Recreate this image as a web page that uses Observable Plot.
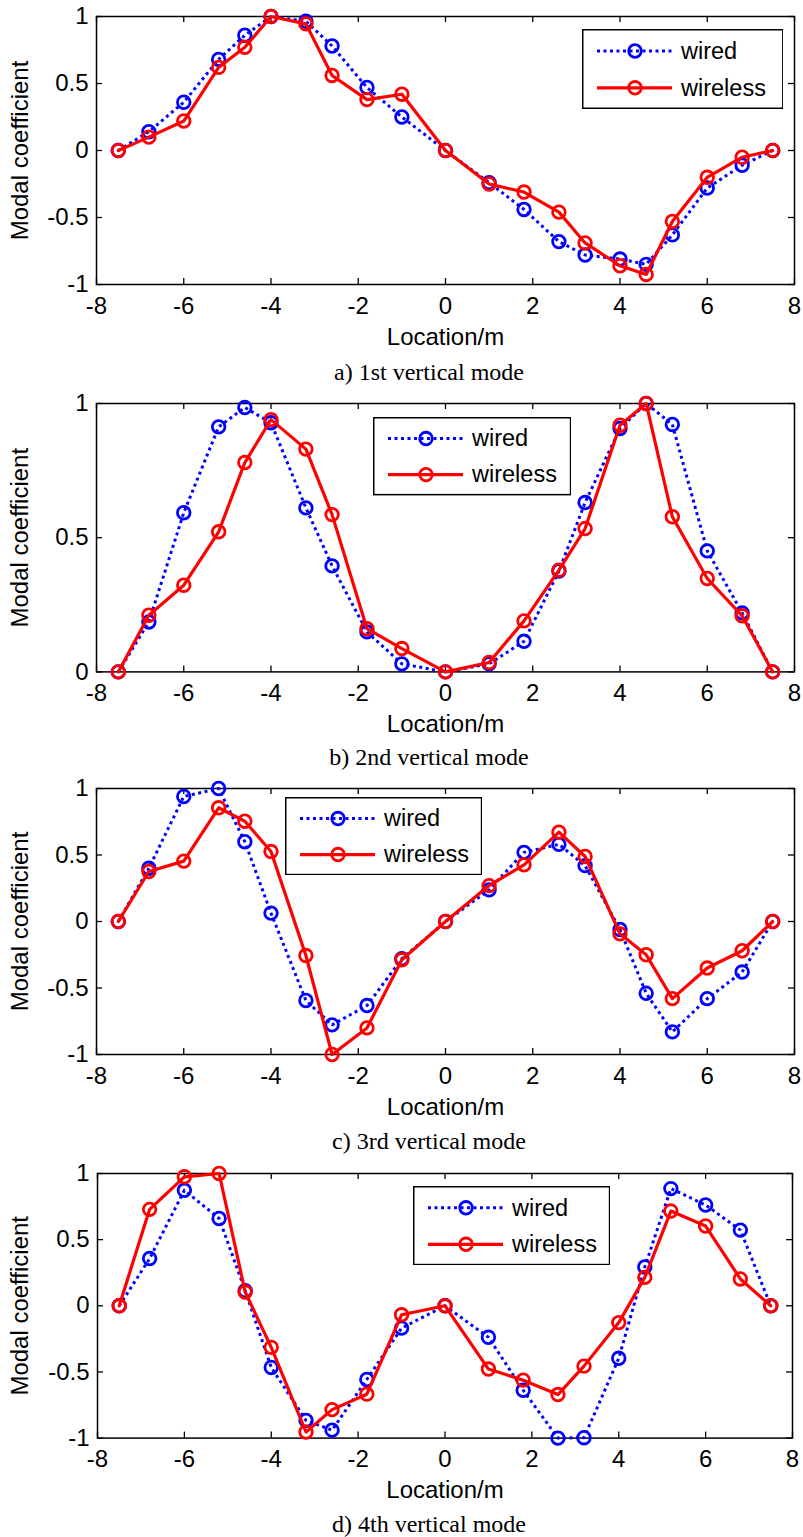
<!DOCTYPE html>
<html><head><meta charset="utf-8">
<script src="https://cdn.jsdelivr.net/npm/d3@7"></script>
<script src="https://cdn.jsdelivr.net/npm/@observablehq/plot@0.6"></script>
<style>
html,body{margin:0;padding:0;background:#fff;overflow:hidden}
#page{position:relative;width:803px;height:1537px;background:#fff}
.caption{position:absolute;font-family:"Liberation Serif","Times New Roman",serif;font-size:24px;line-height:24px;text-align:center;color:#000;white-space:nowrap}
.legend{position:absolute}
</style></head><body><div id="page"></div>
<script>
// ---- data ----
const locations = [-7.5,-6.8,-6,-5.2,-4.6,-4,-3.2,-2.6,-1.8,-1,0,1,1.8,2.6,3.2,4,4.6,5.2,6,6.8,7.5];
const wiredA    = [0,0.14,0.36,0.68,0.86,1.0,0.965,0.78,0.47,0.25,0,-0.24,-0.44,-0.68,-0.78,-0.81,-0.85,-0.63,-0.28,-0.11,0];
const wirelessA = [0,0.10,0.22,0.62,0.77,1.0,0.945,0.56,0.38,0.42,0,-0.25,-0.31,-0.46,-0.69,-0.86,-0.925,-0.53,-0.20,-0.05,0];
const wiredB    = [0,0.186,0.593,0.913,0.985,0.928,0.611,0.395,0.149,0.03,0,0.03,0.114,0.376,0.631,0.907,1.0,0.922,0.451,0.22,0];
const wirelessB = [0,0.211,0.323,0.522,0.78,0.94,0.83,0.586,0.161,0.087,0,0.035,0.19,0.379,0.534,0.919,1.0,0.578,0.348,0.209,0];
const wiredC    = [0,0.40,0.94,1.0,0.60,0.063,-0.594,-0.777,-0.632,-0.28,0,0.238,0.52,0.58,0.42,-0.06,-0.54,-0.83,-0.58,-0.38,0];
const wirelessC = [0,0.376,0.454,0.855,0.754,0.526,-0.256,-1.0,-0.80,-0.288,0,0.27,0.426,0.672,0.489,-0.093,-0.25,-0.58,-0.35,-0.22,0];
const wiredD    = [0,0.357,0.873,0.66,0.114,-0.466,-0.866,-0.94,-0.557,-0.169,0,-0.238,-0.638,-1.0,-0.997,-0.397,0.294,0.886,0.762,0.572,0];
const wirelessD = [0,0.729,0.975,1.0,0.104,-0.314,-0.954,-0.785,-0.668,-0.068,0,-0.478,-0.562,-0.671,-0.456,-0.127,0.215,0.716,0.603,0.203,0];

const xTicks = [-8,-6,-4,-2,0,2,4,6,8];
const yTicksSigned = [-1,-0.5,0,0.5,1];
const yTicksPositive = [0,0.5,1];
const seriesNames = ["wired","wireless"];
const captions = ["a) 1st vertical mode","b) 2nd vertical mode","c) 3rd vertical mode","d) 4th vertical mode"];
const xLabel = "Location/m";
const yLabel = "Modal coefficient";

// ---- layout ----
const panels = [
  {wired: wiredA, wireless: wirelessA, yDomain: [-1,1], yTicks: yTicksSigned, caption: captions[0],
   left: 96, right: 794, top: 16, bottom: 284, capBase: 380, leg: {x: 581.7, y: 29.3, w: 201.6, h: 80}},
  {wired: wiredB, wireless: wirelessB, yDomain: [0,1], yTicks: yTicksPositive, caption: captions[1],
   left: 96, right: 794, top: 403.3, bottom: 671.7, capBase: 765, leg: {x: 372.7, y: 417.3, w: 198.3, h: 78.4}},
  {wired: wiredC, wireless: wirelessC, yDomain: [-1,1], yTicks: yTicksSigned, caption: captions[2],
   left: 96, right: 794, top: 788.3, bottom: 1054.3, capBase: 1149, leg: {x: 285, y: 796.7, w: 197.3, h: 78.3}},
  {wired: wiredD, wireless: wirelessD, yDomain: [-1,1], yTicks: yTicksSigned, caption: captions[3],
   left: 97, right: 792, top: 1172.7, bottom: 1437.3, capBase: 1532, leg: {x: 412.7, y: 1185.7, w: 197.3, h: 79.3}}
];

const BLUE = "#0000ff", RED = "#ff0000";
const DASH = "3,3.5";
const page = document.getElementById("page");

function drawPanel(cfg) {
  const mt = 16, mb = 70;
  const pw = cfg.right - cfg.left, ph = cfg.bottom - cfg.top;
  const rows = locations.map((x, i) => ({x, wired: cfg.wired[i], wireless: cfg.wireless[i]}));
  const chart = Plot.plot({
    width: 803, height: ph + mt + mb,
    marginTop: mt, marginBottom: mb, marginLeft: cfg.left, marginRight: 803 - cfg.right,
    style: {fontFamily: '"Liberation Sans", Arial, sans-serif', fontSize: "24px", color: "#000", background: "transparent", overflow: "visible"},
    x: {domain: [-8, 8]},
    y: {domain: cfg.yDomain},
    marks: [
      Plot.frame({stroke: "#000", strokeWidth: 1.5}),
      Plot.tickX(xTicks, {x: d => d, insetTop: ph - 6, stroke: "#000", strokeWidth: 1.3}),
      Plot.tickX(xTicks, {x: d => d, insetBottom: ph - 6, stroke: "#000", strokeWidth: 1.3}),
      Plot.tickY(cfg.yTicks, {y: d => d, insetRight: pw - 6, stroke: "#000", strokeWidth: 1.3}),
      Plot.tickY(cfg.yTicks, {y: d => d, insetLeft: pw - 6, stroke: "#000", strokeWidth: 1.3}),
      Plot.axisX({ticks: xTicks, tickSize: 0, tickPadding: 12, tickFormat: d => String(d), fontSize: 24, label: null}),
      Plot.axisY({ticks: cfg.yTicks, tickSize: 0, tickPadding: 8, tickFormat: d => String(d), fontSize: 24, label: null}),
      Plot.text([xLabel], {text: d => d, frameAnchor: "bottom", dy: 60, lineAnchor: "bottom", textAnchor: "middle", fontSize: 24, fill: "#000"}),
      Plot.text([yLabel], {text: d => d, frameAnchor: "left", dx: 27 - cfg.left, rotate: -90, lineAnchor: "bottom", textAnchor: "middle", fontSize: 24, fill: "#000"}),
      Plot.line(rows, {x: "x", y: "wired", stroke: BLUE, strokeWidth: 3, strokeDasharray: DASH, strokeLinecap: "butt"}),
      Plot.dot(rows, {x: "x", y: "wired", r: 6.3, stroke: BLUE, strokeWidth: 2.8, fill: "none"}),
      Plot.line(rows, {x: "x", y: "wireless", stroke: RED, strokeWidth: 3.2}),
      Plot.dot(rows, {x: "x", y: "wireless", r: 6.3, stroke: RED, strokeWidth: 2.8, fill: "none"})
    ]
  });
  chart.style.position = "absolute";
  chart.style.left = "0px";
  chart.style.top = (cfg.top - mt) + "px";
  page.appendChild(chart);

  // caption
  const cap = document.createElement("div");
  cap.className = "caption";
  cap.textContent = cfg.caption;
  cap.style.left = "229px";
  cap.style.width = "400px";
  cap.style.top = (cfg.capBase - 20.1) + "px";
  page.appendChild(cap);

  // legend
  const L = cfg.leg;
  const div = document.createElement("div");
  div.className = "legend";
  div.style.left = L.x + "px";
  div.style.top = L.y + "px";
  const svg = d3.create("svg").attr("width", L.w).attr("height", L.h).style("display", "block");
  svg.append("rect").attr("x", 0.75).attr("y", 0.75).attr("width", L.w - 1.5).attr("height", L.h - 1.5)
    .attr("fill", "#fff").attr("stroke", "#000").attr("stroke-width", 1.5);
  const rowY = [L.h * 0.275, L.h * 0.735];
  const styles = [{c: BLUE, dash: DASH}, {c: RED, dash: null}];
  seriesNames.forEach((name, i) => {
    const y = rowY[i], s = styles[i];
    const ln = svg.append("line").attr("x1", 15).attr("x2", 90).attr("y1", y).attr("y2", y)
      .attr("stroke", s.c).attr("stroke-width", i === 0 ? 3 : 3.2);
    if (s.dash) ln.attr("stroke-dasharray", s.dash);
    svg.append("circle").attr("cx", 53).attr("cy", y).attr("r", 6.3)
      .attr("fill", "none").attr("stroke", s.c).attr("stroke-width", 2.8);
    svg.append("text").attr("x", 99).attr("y", y + 7.7).text(name)
      .attr("font-family", '"Liberation Sans", Arial, sans-serif').attr("font-size", 23.5).attr("fill", "#000");
  });
  div.appendChild(svg.node());
  page.appendChild(div);
}

panels.forEach(drawPanel);
</script>
</body></html>
